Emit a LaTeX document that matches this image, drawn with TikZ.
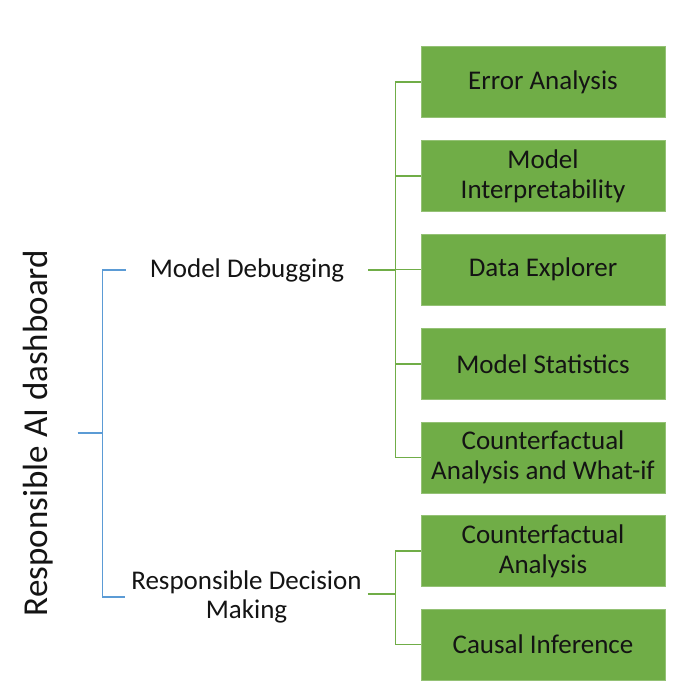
\documentclass[tikz,border=0pt]{standalone}
\usepackage{fontspec}
\setmainfont{Carlito}
\usepackage{tikz}

\definecolor{leafgreen}{HTML}{70AD47}
\definecolor{linegreen}{HTML}{70AD47}
\definecolor{lineblue}{HTML}{5B9BD5}
\definecolor{inktext}{HTML}{141414}

\begin{document}
\begin{tikzpicture}[x=1pt,y=-1pt,
  leaf/.style={fill=leafgreen,draw=leafgreen!75!white,line width=0.8pt,
    minimum width=244pt,minimum height=71pt,inner sep=1pt,align=center,
    text=inktext,font=\fontsize{27}{30}\selectfont},
  branch/.style={align=center,text=inktext,font=\fontsize{27}{29}\selectfont},
  gline/.style={draw=linegreen,line width=1.3pt},
  bline/.style={draw=lineblue,line width=1.1pt}]
  \fill[white] (0,0) rectangle (676,696);
  \useasboundingbox (0,0) rectangle (676,696);
  % title and branches
  \node[branch,rotate=90,font=\fontsize{35}{38}\selectfont,anchor=base] (rad) at (47,433) {Responsible AI dashboard};
  \node[branch,inner xsep=24pt] (md) at (247,270) {Model Debugging};
  \node[branch,inner xsep=6pt] (rdm) at (246.5,597) {Responsible Decision\\Making};
  % leaves
  \node[leaf] (ea) at (543,82) {Error Analysis};
  \node[leaf] (mi) at (543,176) {Model\\Interpretability};
  \node[leaf] (de) at (543,269.5) {Data Explorer};
  \node[leaf] (ms) at (543,364) {Model Statistics};
  \node[leaf] (cw) at (543,457.5) {Counterfactual\\Analysis and What-if};
  \node[leaf] (ca) at (543,551) {Counterfactual\\Analysis};
  \node[leaf] (ci) at (543,644.5) {Causal Inference};
  \coordinate (bspine) at ([xshift=-23pt]md.west);
  \coordinate (gspine) at ([xshift=-25pt]ea.west);
  % blue bracket
  \draw[bline] (md.west) -| (bspine) |- (rdm.west);
  \draw[bline] ([xshift=-25pt]rad.south -| bspine) -- (rad.south -| bspine);
  % green brackets
  \draw[gline] (ea.west) -| (gspine) |- (cw.west);
  \foreach \n in {mi,de,ms} { \draw[gline] (\n.west) -- (\n.west -| gspine); }
  \draw[gline,line width=2.6pt] (md.east) -- (md.east -| gspine);
  \draw[gline] (ca.west) -- (ca.west -| gspine) |- (ci.west);
  \draw[gline] ([yshift=3pt]rdm.east) -- ([yshift=3pt]rdm.east -| gspine);
\end{tikzpicture}
\end{document}
